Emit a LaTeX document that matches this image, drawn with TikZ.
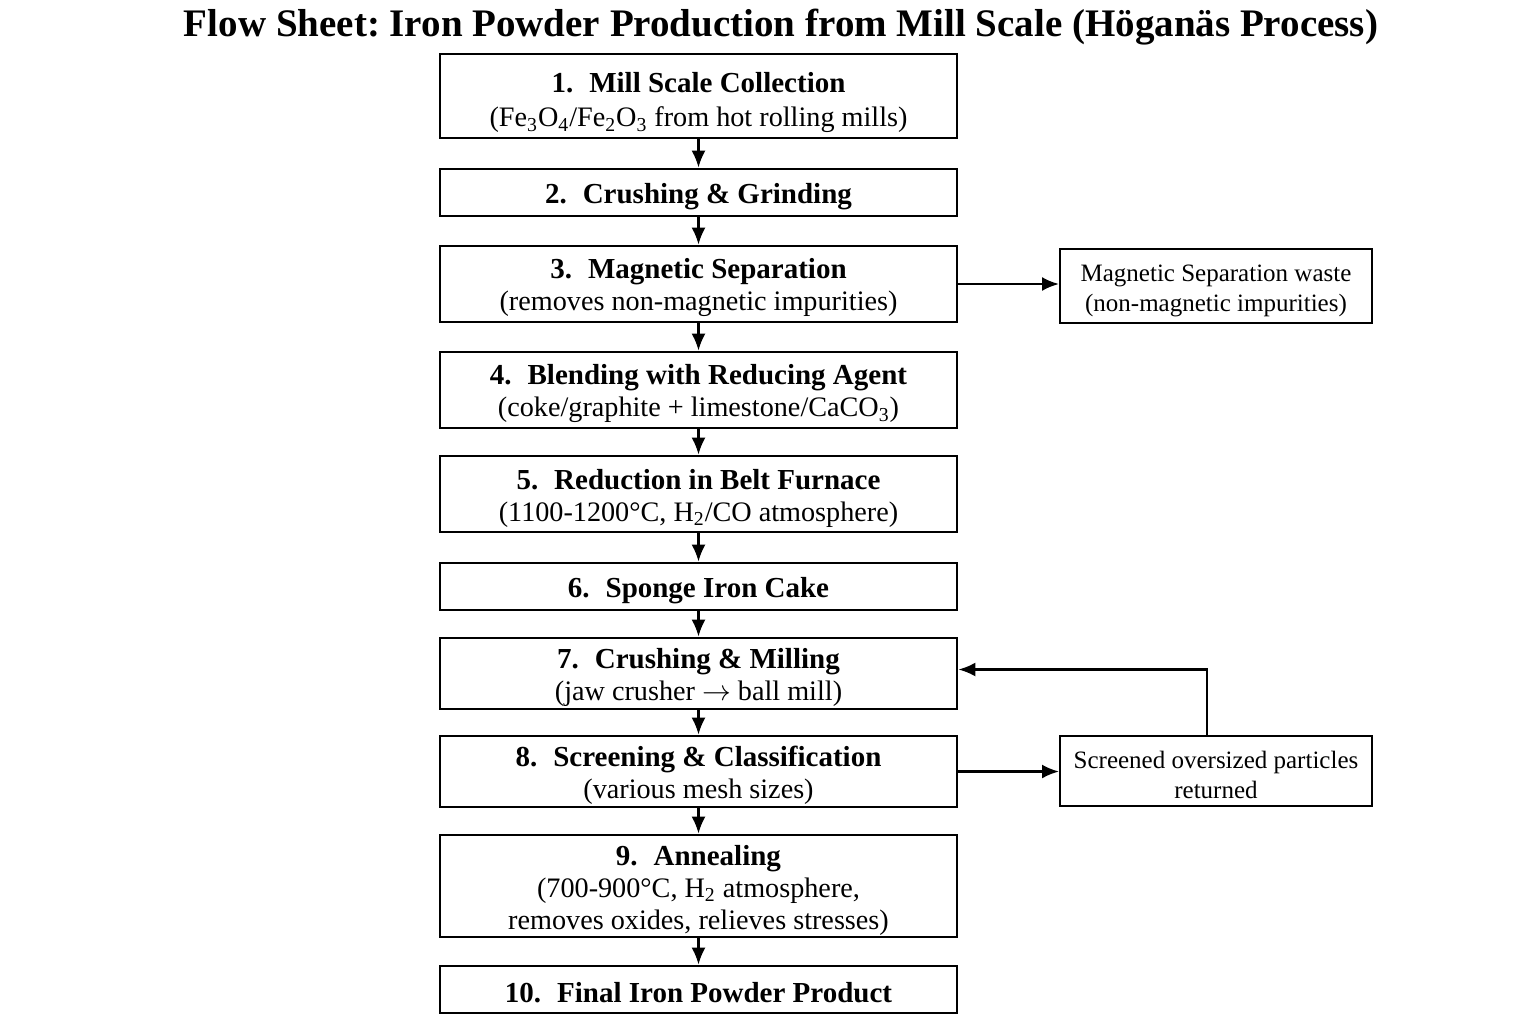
\documentclass[tikz,border=0pt]{standalone}
\usepackage{fontspec}
\setmainfont{Liberation Serif}
\usetikzlibrary{arrows.meta,calc}
\frenchspacing
\newcommand\toplift{\rule{0pt}{14pt}}
\newcommand\sidelift{\rule{0pt}{13pt}}
\newcommand\hdr[2]{{\fontsize{14.5}{16}\selectfont\bfseries #1.\hspace{0.55em}#2}}
\newcommand\sub[1]{\textsubscript{#1}}
\begin{document}
\begin{tikzpicture}[x=0.5pt,y=-0.5pt,
  mainbox/.style={draw,line width=1.35pt,minimum width=258.5pt,align=center,inner sep=0pt,font=\fontsize{14.1}{16}\selectfont},
  sidebox/.style={draw,line width=1pt,minimum width=156pt,align=center,inner sep=0pt,font=\fontsize{12.5}{15}\selectfont},
  arr/.style={line width=1.2pt,-{Latex[length=8.5pt,width=7pt]}}]
\useasboundingbox (0,0) rectangle (1536,1024);
\node[font=\bfseries\fontsize{19.5}{22}\selectfont] (title) at (781,27) {Flow Sheet: Iron Powder Production from Mill Scale (Höganäs Process)};
\node[mainbox,minimum height=42pt] (b1) at (698.5,96) {\rule{0pt}{17pt}\hdr{1}{Mill Scale Collection}\\[1pt](Fe\sub{3}O\sub{4}/Fe\sub{2}O\sub{3} from hot rolling mills)};
\node[mainbox,minimum height=23.5pt] (b2) at (698.5,192.5) {\toplift\hdr{2}{Crushing \& Grinding}};
\node[mainbox,minimum height=38pt] (b3) at (698.5,284) {\toplift\hdr{3}{Magnetic Separation}\\(removes non-magnetic impurities)};
\node[mainbox,minimum height=38pt] (b4) at (698.5,390) {\toplift\hdr{4}{Blending with Reducing Agent}\\(coke/graphite + limestone/CaCO\sub{3})};
\node[mainbox,minimum height=38pt] (b5) at (698.5,494) {\toplift\hdr{5}{Reduction in Belt Furnace}\\(1100-1200°C, H\sub{2}/CO atmosphere)};
\node[mainbox,minimum height=23.5pt] (b6) at (698.5,586.5) {\toplift\hdr{6}{Sponge Iron Cake}};
\node[mainbox,minimum height=35.5pt] (b7) at (698.5,673.5) {\toplift\hdr{7}{Crushing \& Milling}\\(jaw crusher $\rightarrow$ ball mill)};
\node[mainbox,minimum height=35.5pt] (b8) at (698.5,771.5) {\toplift\hdr{8}{Screening \& Classification}\\(various mesh sizes)};
\node[mainbox,minimum height=51pt] (b9) at (698.5,886) {\toplift\hdr{9}{Annealing}\\(700-900°C, H\sub{2} atmosphere,\\removes oxides, relieves stresses)};
\node[mainbox,minimum height=23.5pt] (b10) at (698.5,989.5) {\rule{0pt}{13pt}\hdr{10}{Final Iron Powder Product}};
\node[sidebox,minimum height=37pt] (s1) at (1216,286) {\sidelift Magnetic Separation waste\\(non-magnetic impurities)};
\node[sidebox,minimum height=35pt] (s2) at (1216,771) {\sidelift Screened oversized particles\\returned};
\foreach \a/\b in {b1/b2,b2/b3,b3/b4,b4/b5,b5/b6,b6/b7,b7/b8,b8/b9,b9/b10}
  \draw[arr] (\a.south) -- (\b.north);
\draw[arr] (b3.east) -- (b3.east -| s1.west);
\draw[arr] (b8.east) -- (b8.east -| s2.west);
\draw[arr] ([xshift=-4.5pt]s2.north) |- ([yshift=2pt]b7.east);
\end{tikzpicture}
\end{document}
